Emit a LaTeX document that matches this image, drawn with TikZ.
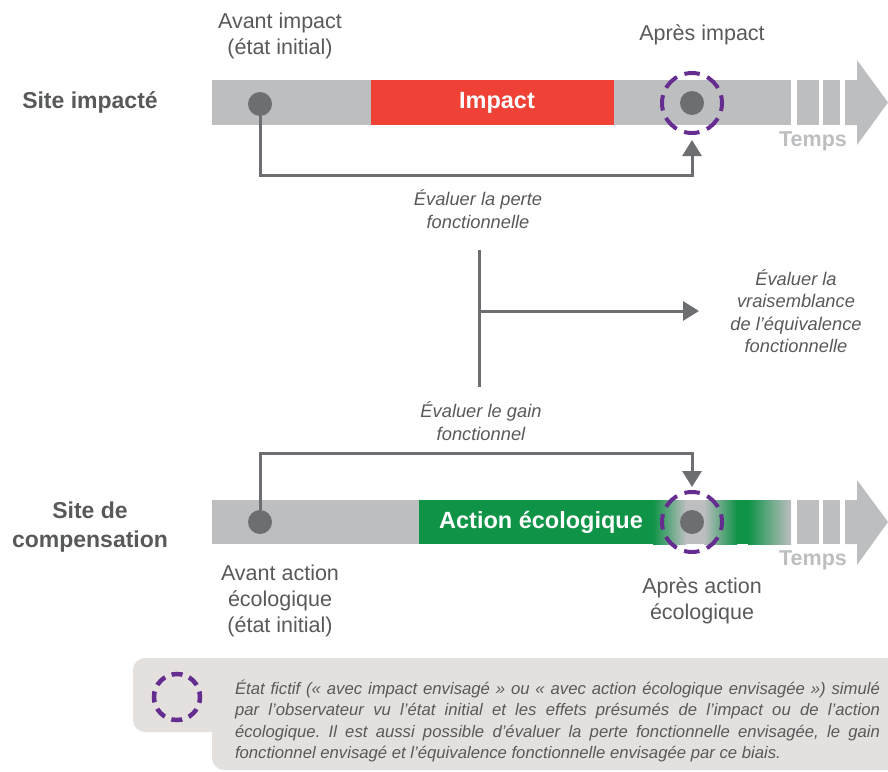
\documentclass[tikz,border=0pt]{standalone}
\usepackage{fontspec}
\setmainfont{Liberation Sans}
\usetikzlibrary{arrows.meta}
\frenchspacing
\definecolor{bargrey}{HTML}{BCBEC0}
\definecolor{dotgrey}{HTML}{6D6E71}
\definecolor{labelgrey}{HTML}{58595B}
\definecolor{impactred}{HTML}{EF4136}
\definecolor{ecogreen}{HTML}{0F9347}
\definecolor{fictpurple}{HTML}{662D91}
\definecolor{legendgrey}{HTML}{E4E0DD}
\tikzset{
  dot/.style={circle,fill=dotgrey,minimum size=24pt,inner sep=0pt},
  fictive/.style={circle,draw=fictpurple,line width=4pt,minimum size=60pt,inner sep=0pt,
    dash pattern=on 15.5pt off 8pt,dash phase=7.75pt},
  legcircle/.style={circle,draw=fictpurple,line width=4.5pt,minimum size=46pt,inner sep=0pt,
    dash pattern=on 11pt off 7pt,dash phase=5.5pt},
  link/.style={draw=dotgrey,line width=3pt,-{Triangle[length=16pt,width=19pt]}},
  stem/.style={draw=dotgrey,line width=3pt},
  sitelabel/.style={text=labelgrey,font=\fontsize{23}{29}\selectfont\bfseries,align=center},
  statelabel/.style={text=labelgrey,font=\fontsize{21.5}{26}\selectfont,align=center},
  evallabel/.style={text=labelgrey,font=\fontsize{18.3}{22.5}\selectfont\itshape,align=center},
  bartext/.style={text=white,font=\fontsize{23.5}{27}\selectfont\bfseries},
  tempslabel/.style={text=bargrey,font=\fontsize{21.5}{24}\selectfont\bfseries},
  legendtext/.style={text=labelgrey,font=\fontsize{16.7}{21.5}\selectfont\itshape,
    text width=645pt,align=justify,inner sep=0pt}
}
\begin{document}
\begin{tikzpicture}[x=1pt,y=-1pt]
\useasboundingbox (0,0) rectangle (888,771);
% impacted site
\fill[bargrey] (212,80) rectangle (791,125);
\fill[impactred] (371,80) rectangle (614,125);
\fill[bargrey] (797,80) rectangle (819,125);
\fill[bargrey] (823,80) rectangle (840,125);
\fill[bargrey] (845,80) -- (857,80) -- (857,60) -- (888,102.5) -- (857,145) -- (857,125) -- (845,125) -- cycle;
\node[bartext] (impact) at (497,102.5) {Impact};
\node[tempslabel] (tempsimp) at (813,141) {Temps};
\node[sitelabel] (siteimp) at (90,102) {Site impacté};
\node[statelabel] (avimplabel) at (280,36) {Avant impact\\(état initial)};
\node[statelabel] (apimplabel) at (702,35) {Après impact};
\node[dot] (avimp) at (260,104) {};
\node[dot] (apimp) at (692,103) {};
\node[fictive] (apimpfict) at (692,103) {};
% compensation site
\fill[bargrey] (212,500) rectangle (791,544);
\fill[ecogreen] (419,500) rectangle (653,544);
\shade[left color=ecogreen,right color=bargrey] (653,500) rectangle (686,544);
\shade[left color=bargrey,right color=ecogreen] (704,500) rectangle (737,544);
\fill[ecogreen] (736.5,500) rectangle (748.5,544);
\shade[left color=ecogreen,right color=bargrey] (748,500) rectangle (791,544);
\fill[bargrey] (797,500) rectangle (819,544);
\fill[bargrey] (823,500) rectangle (840,544);
\fill[bargrey] (845,500) -- (857,500) -- (857,480) -- (888,522) -- (857,565) -- (857,544) -- (845,544) -- cycle;
\node[bartext] (action) at (541,522) {Action écologique};
\node[tempslabel] (tempscomp) at (813,560) {Temps};
\node[sitelabel] (sitecomp) at (90,527.5) {Site de\\compensation};
\node[statelabel] (avcomplabel) at (280,601) {Avant action\\écologique\\(état initial)};
\node[statelabel] (apcomplabel) at (702,601) {Après action\\écologique};
\node[dot] (avcomp) at (260,522) {};
\node[dot] (apcomp) at (692,522) {};
\node[fictive] (apcompfict) at (692,522) {};
% evaluations
\draw[link] (avimp) -- (260,175) -| ([yshift=-5pt]apimpfict.south);
\node[evallabel] (perte) at (478,209) {Évaluer la perte\\fonctionnelle};
\draw[link] (avcomp) -- (260,453) -| ([yshift=3pt]apcompfict.north);
\node[evallabel] (gain) at (481,421) {Évaluer le gain\\fonctionnel};
\coordinate (splittop) at (479,250);
\coordinate (splitbot) at (479,387);
\coordinate (splitmid) at (479,311);
\coordinate (equivin) at (699,311);
\draw[stem] (splittop) -- (splitbot);
\draw[link] (splitmid) -- (equivin);
\node[evallabel] (equiv) at (796,311) {Évaluer la\\vraisemblance\\de l’équivalence\\fonctionnelle};
% legend
\fill[legendgrey,rounded corners=12pt] (133,658) rectangle (900,732);
\fill[legendgrey,rounded corners=12pt] (212,690) rectangle (900,770);
\node[legcircle] (legfict) at (177,697) {};
\node[legendtext] (legtext) at (557.5,721) {État fictif («~avec impact envisagé~» ou «~avec action écologique envisagée~») simulé\linebreak par l’observateur vu l’état initial et les effets présumés de l’impact ou de l’action\linebreak écologique. Il est aussi possible d’évaluer la perte fonctionnelle envisagée, le gain\linebreak fonctionnel envisagé et l’équivalence fonctionnelle envisagée par ce biais.};
\end{tikzpicture}
\end{document}
